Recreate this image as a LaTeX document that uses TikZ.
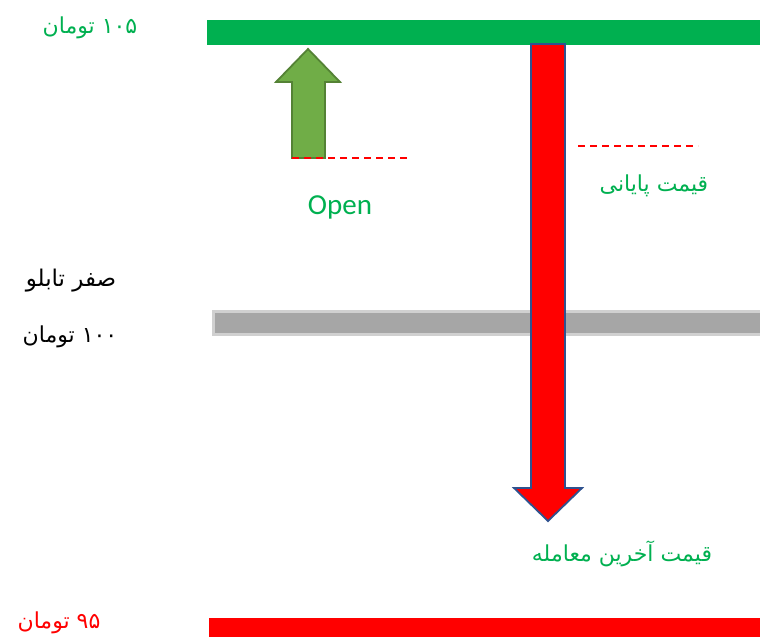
\documentclass[tikz,border=0pt]{standalone}
\usepackage{fontspec}
\setmainfont{Carlito}
\newfontfamily\arabicfont[Script=Arabic]{DejaVu Sans}
\TeXXeTstate=1
\definecolor{barGreen}{HTML}{00B050}
\definecolor{upFill}{HTML}{70AD47}
\definecolor{upLine}{HTML}{548235}
\definecolor{downLine}{HTML}{2F528F}
\definecolor{barGray}{HTML}{A6A6A6}
\definecolor{barGrayEdge}{HTML}{D0D0D0}
\begin{document}
\begin{tikzpicture}[x=1pt,y=-1pt,
  fa/.style={font=\arabicfont\fontsize{22}{24}\selectfont},
  dashline/.style={red,dashed,line width=1.2pt,dash pattern=on 7pt off 5pt}]
  \useasboundingbox (0,0) rectangle (760,637);
  % price levels
  \fill[barGreen] (207,20) rectangle (760,45);
  \fill[barGray,draw=barGrayEdge,line width=3pt] (213.5,311.5) rectangle (761,334.5);
  \fill[red] (209,618) rectangle (760,637);
  % open arrow
  \filldraw[fill=upFill,draw=upLine,line width=1.8pt]
    (292,158) -- (292,82) -- (276,82) -- (308,49) -- (340,82) -- (325,82) -- (325,158) -- cycle;
  \coordinate (openL) at (292,158);
  \coordinate (openR) at (411,158);
  \draw[dashline] (openL) -- (openR);
  % last price arrow
  \filldraw[fill=red,draw=downLine,line width=1.8pt]
    (531,44) -- (565,44) -- (565,488) -- (582,488) -- (548,521) -- (514,488) -- (531,488) -- cycle;
  \coordinate (closeL) at (578,146);
  \coordinate (closeR) at (698,146);
  \draw[dashline] (closeL) -- (closeR);
  % labels
  \node[fa,text=barGreen] (top) at (90,28) {\beginR ۱۰۵ تومان\endR};
  \node[text=barGreen,font=\fontsize{29}{32}\selectfont] (open) at (340,207) {Open};
  \node[fa,text=barGreen] (close) at (654,186) {\beginR قیمت پایانی\endR};
  \node[fa,font=\arabicfont\fontsize{23}{25}\selectfont] (zero) at (71,281) {\beginR صفر تابلو\endR};
  \node[fa] (mid) at (70,337) {\beginR ۱۰۰ تومان\endR};
  \node[fa,text=barGreen] (last) at (622,554) {\beginR قیمت آخرین معامله\endR};
  \node[fa,text=red] (low) at (59,623) {\beginR ۹۵ تومان\endR};
\end{tikzpicture}
\end{document}
